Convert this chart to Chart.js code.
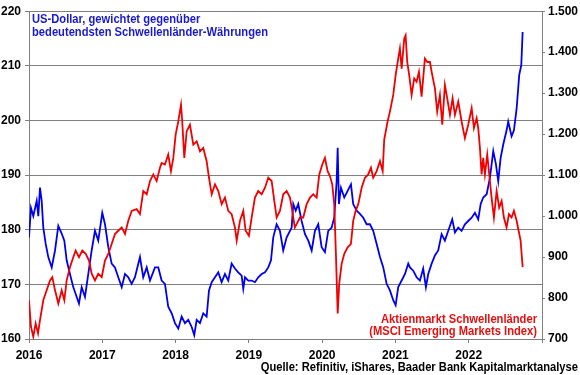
<!DOCTYPE html>
<html>
<head>
<meta charset="utf-8">
<script src="https://cdn.jsdelivr.net/npm/chart.js@4.4.1/dist/chart.umd.min.js"></script>
<style>
html,body{margin:0;padding:0;background:#fff;}
#wrap{width:580px;height:375px;position:relative;}
</style>
</head>
<body>
<div id="wrap"><canvas id="c" width="580" height="375"></canvas></div>
<script>
// ---- Data (decimal years) ----
const yearLabels = ['2016','2017','2018','2019','2020','2021','2022'];
const leftRange = [160, 220, 10];
const rightRange = [700, 1500, 100];

const usdTime = [2016.000,2016.027,2016.059,2016.105,2016.127,2016.150,2016.173,2016.195,2016.228,2016.263,2016.310,2016.355,2016.400,2016.446,2016.482,2016.514,2016.559,2016.604,2016.651,2016.682,2016.719,2016.764,2016.809,2016.855,2016.900,2016.945,
2017.000,2017.037,2017.082,2017.128,2017.173,2017.218,2017.265,2017.310,2017.355,2017.401,2017.446,2017.514,2017.559,2017.606,2017.651,2017.719,2017.764,2017.810,2017.855,2017.900,2017.947,2017.992,
2018.037,2018.083,2018.128,2018.173,2018.220,2018.255,2018.288,2018.333,2018.378,2018.424,2018.456,2018.493,2018.538,2018.583,2018.629,2018.674,2018.719,2018.765,2018.810,2018.855,2018.902,2018.924,2018.947,2018.992,
2019.038,2019.083,2019.128,2019.175,2019.220,2019.265,2019.302,2019.333,2019.379,2019.424,2019.469,2019.516,2019.561,2019.584,2019.606,2019.639,2019.674,2019.720,2019.766,2019.811,2019.857,2019.902,2019.947,2019.993,
2020.038,2020.083,2020.130,2020.165,2020.198,2020.212,2020.229,2020.257,2020.302,2020.348,2020.393,2020.424,2020.471,2020.516,2020.561,2020.607,2020.652,2020.697,2020.744,2020.789,2020.834,2020.880,2020.925,2020.970,
2021.003,2021.038,2021.085,2021.130,2021.175,2021.198,2021.243,2021.289,2021.334,2021.379,2021.416,2021.448,2021.494,2021.539,2021.584,2021.630,2021.675,2021.721,2021.775,2021.812,2021.857,2021.903,2021.948,2021.993,
2022.040,2022.085,2022.130,2022.163,2022.198,2022.245,2022.289,2022.335,2022.371,2022.403,2022.435,2022.471,2022.517,2022.539,2022.585,2022.617,2022.654,2022.689,2022.717,2022.736];
const usdValue = [178.6,184,182.5,185.3,182.5,187.7,185.3,180.4,177.4,175,173.1,176.2,180.7,179.3,178,174.4,171.9,169.5,167.7,166.5,169.5,167.7,171.9,176.2,179.8,178,
183.1,181,176.8,173.8,173.1,171.3,169.5,171.9,171.3,170.1,171.3,175,171.3,173.1,170.7,173.1,173.1,170.7,170.1,165.9,164.7,162.9,
161.9,164.1,162.9,163.5,162.2,160.7,163.5,162.9,164.7,164.1,168.9,170.4,171.3,172.2,170.4,171.9,170.7,173.8,172.9,172.2,171.6,169.2,171.3,170.7,
170.7,170.4,171.3,171.9,172.2,173.1,174.4,178.6,181,179.8,176.2,178.6,179.8,180.4,184.7,183.5,184.7,181.6,179.2,178,176.2,179.8,181,176.8,
175.9,179.8,180.4,182.2,188.9,195,184.7,187.7,185.9,187.1,188.3,184.7,183.5,182.9,182.2,181,181,179.8,177.4,175,173.1,170.1,168.9,167.1,
166.2,169.5,170.7,171.9,173.8,173.1,172.5,171.3,170.7,172.9,169.5,171.9,173.8,175.3,176.2,179.2,178,179.8,181.9,179.5,180.4,179.8,181,181.6,
182.2,183.1,181.9,184.7,185.9,186.5,189.5,194.4,192,188.9,193.1,195.6,198.2,199.8,197.1,198.2,202.2,208.3,210.1,216.2];

const emTime = [2016.000,2016.027,2016.059,2016.091,2016.123,2016.150,2016.195,2016.241,2016.287,2016.318,2016.355,2016.400,2016.446,2016.482,2016.514,2016.559,2016.604,2016.637,2016.682,2016.727,2016.774,2016.819,2016.855,2016.900,2016.945,2016.992,
2017.037,2017.082,2017.128,2017.173,2017.218,2017.265,2017.310,2017.355,2017.401,2017.469,2017.514,2017.559,2017.606,2017.651,2017.696,2017.742,2017.787,2017.810,2017.855,2017.900,2017.937,2017.969,
2018.001,2018.037,2018.074,2018.091,2018.119,2018.151,2018.196,2018.242,2018.288,2018.333,2018.378,2018.424,2018.456,2018.493,2018.538,2018.583,2018.629,2018.674,2018.719,2018.765,2018.810,2018.834,2018.879,2018.924,2018.956,
2019.001,2019.038,2019.083,2019.128,2019.175,2019.220,2019.265,2019.311,2019.347,2019.379,2019.424,2019.469,2019.516,2019.561,2019.592,2019.627,2019.652,2019.697,2019.742,2019.789,2019.834,2019.879,2019.925,2019.961,
2020.002,2020.038,2020.075,2020.106,2020.138,2020.165,2020.188,2020.212,2020.233,2020.266,2020.302,2020.348,2020.393,2020.424,2020.457,2020.493,2020.539,2020.584,2020.629,2020.666,2020.697,2020.744,2020.789,2020.826,2020.847,2020.893,2020.925,2020.970,
2021.003,2021.038,2021.061,2021.085,2021.120,2021.139,2021.161,2021.188,2021.221,2021.256,2021.289,2021.321,2021.357,2021.402,2021.434,2021.471,2021.494,2021.539,2021.570,2021.607,2021.639,2021.675,2021.707,2021.744,2021.780,2021.812,2021.857,2021.903,2021.948,2021.993,
2022.040,2022.071,2022.108,2022.130,2022.153,2022.176,2022.198,2022.221,2022.253,2022.280,2022.312,2022.344,2022.381,2022.416,2022.449,2022.480,2022.517,2022.549,2022.585,2022.617,2022.654,2022.681,2022.708,2022.736];
const emValue = [794.5,729.8,705.6,738,713.8,746,794.5,818.8,843,851,818.8,786.5,818.8,794.5,843,875.3,899.5,915.8,899.5,915.8,907.8,891.5,859.3,843,859.3,851,
891.5,907.8,932,956.2,964.2,972.3,956.2,988.5,1012.7,1016.8,1004.7,1061.2,1053.2,1085.5,1101.7,1085.5,1117.8,1129.8,1126,1150.2,1109.7,1142,
1198.7,1230.9,1271.3,1230.9,1142,1206.7,1222.9,1174.4,1182.4,1158.2,1166.2,1134,1093.5,1053.2,1077.5,1061.2,1029,1045,1012.7,1004.7,972.3,940,988.5,1012.7,964.2,
952.1,996.5,1045,1061.2,1053.2,1069.2,1093.5,1085.5,1037,996.5,1012.7,1053.2,1061.2,1045,1012.7,972.3,980.5,996.5,996.5,1029,1045,1053.2,1045,1101.7,
1126,1142,1109.7,1097.6,1077.5,1029,907.8,762.3,835,883.5,907.8,923.8,932,988.5,1012.7,1029,1069.2,1093.5,1101.7,1117.8,1093.5,1109.7,1134,1109.7,1186.5,1230.9,1255,1295.6,
1344,1384.4,1408.6,1360,1432.8,1441,1376,1344,1295.6,1336,1328,1352,1291.5,1384.4,1376,1376,1352,1311.6,1255,1295.6,1223,1319.9,1287.4,1247,1287.4,1247,1279.4,1230.9,1190.4,1223,
1263.2,1214.7,1239,1214.7,1166.2,1101.7,1142,1101.7,1150.2,1101.7,1045,996.5,1061.2,1020.7,1037,996.5,972.3,1004.7,996.5,1012.7,988.5,964.2,940,875.3];

const usdTitle = ['US-Dollar, gewichtet gegenüber', 'bedeutendsten Schwellenländer-Währungen'];
const emTitle = ['Aktienmarkt Schwellenländer', '(MSCI Emerging Markets Index)'];
const sourceText = 'Quelle: Refinitiv, iShares, Baader Bank Kapitalmarktanalyse';

// ---- Styles ----
const BLUE = '#0000f0';
const RED = '#f00000';
const BLUE_TXT = '#1a1acc';
const RED_TXT = '#e51010';
const GRID = '#808080';
const FONT = '"Liberation Sans", Arial, sans-serif';

function deFormat(v){
  const s = String(Math.round(v));
  return s.length > 3 ? s.slice(0, s.length-3) + '.' + s.slice(s.length-3) : s;
}

const textPlugin = {
  id: 'texts',
  afterDraw(chart){
    const ctx = chart.ctx;
    const sq = 0.86;
    ctx.save();
    ctx.font = 'bold 13px ' + FONT;
    ctx.textBaseline = 'alphabetic';
    function put(t, x, y, align, color){
      ctx.save();
      ctx.translate(x, y);
      ctx.scale(sq, 1);
      ctx.textAlign = align;
      ctx.fillStyle = color;
      ctx.fillText(t, 0, 0);
      ctx.restore();
    }
    put(usdTitle[0], 32, 22.7, 'left', BLUE_TXT);
    put(usdTitle[1], 32, 35.7, 'left', BLUE_TXT);
    put(emTitle[0], 537, 323.3, 'right', RED_TXT);
    put(emTitle[1], 537, 335, 'right', RED_TXT);
    put(sourceText, 578, 371, 'right', '#000');
    ctx.restore();
  }
};

Chart.defaults.font.family = FONT;
Chart.defaults.font.weight = 'bold';
Chart.defaults.font.size = 12;
Chart.defaults.color = '#000';

new Chart(document.getElementById('c'), {
  type: 'line',
  data: {
    datasets: [
      {
        label: emTitle.join(' '),
        data: emTime.map((t, i) => ({x: t, y: emValue[i]})),
        yAxisID: 'y1',
        borderColor: RED,
        borderWidth: 1.8,
        pointRadius: 0,
        tension: 0
      },
      {
        label: usdTitle.join(' '),
        data: usdTime.map((t, i) => ({x: t, y: usdValue[i]})),
        yAxisID: 'y',
        borderColor: BLUE,
        borderWidth: 1.8,
        pointRadius: 0,
        tension: 0
      }
    ]
  },
  options: {
    responsive: false,
    animation: false,
    events: [],
    layout: {padding: {top: 9, left: 0, right: 0, bottom: 0}},
    plugins: {legend: {display: false}, tooltip: {enabled: false}},
    scales: {
      x: {
        type: 'linear',
        min: 2016, max: 2023,
        afterFit(s){ s.height = 36; },
        grid: {drawOnChartArea: false, drawTicks: true, tickLength: 4, color: GRID},
        border: {display: true, color: GRID},
        ticks: {
          stepSize: 1, autoSkip: false, maxRotation: 0, padding: 5,
          callback(v){ const i = Math.round(v) - 2016; return yearLabels[i] || ''; }
        }
      },
      y: {
        position: 'left',
        min: leftRange[0], max: leftRange[1],
        afterFit(s){ s.width = 29; },
        grid: {color: GRID, drawTicks: true, tickLength: 4},
        border: {display: true, color: GRID},
        ticks: {stepSize: leftRange[2], padding: 4}
      },
      y1: {
        position: 'right',
        min: rightRange[0], max: rightRange[1],
        afterFit(s){ s.width = 38; },
        grid: {drawOnChartArea: false, drawTicks: true, tickLength: 3, color: GRID},
        border: {display: true, color: GRID},
        ticks: {stepSize: rightRange[2], padding: 3, callback: v => deFormat(v)}
      }
    }
  },
  plugins: [textPlugin]
});
</script>
</body>
</html>
